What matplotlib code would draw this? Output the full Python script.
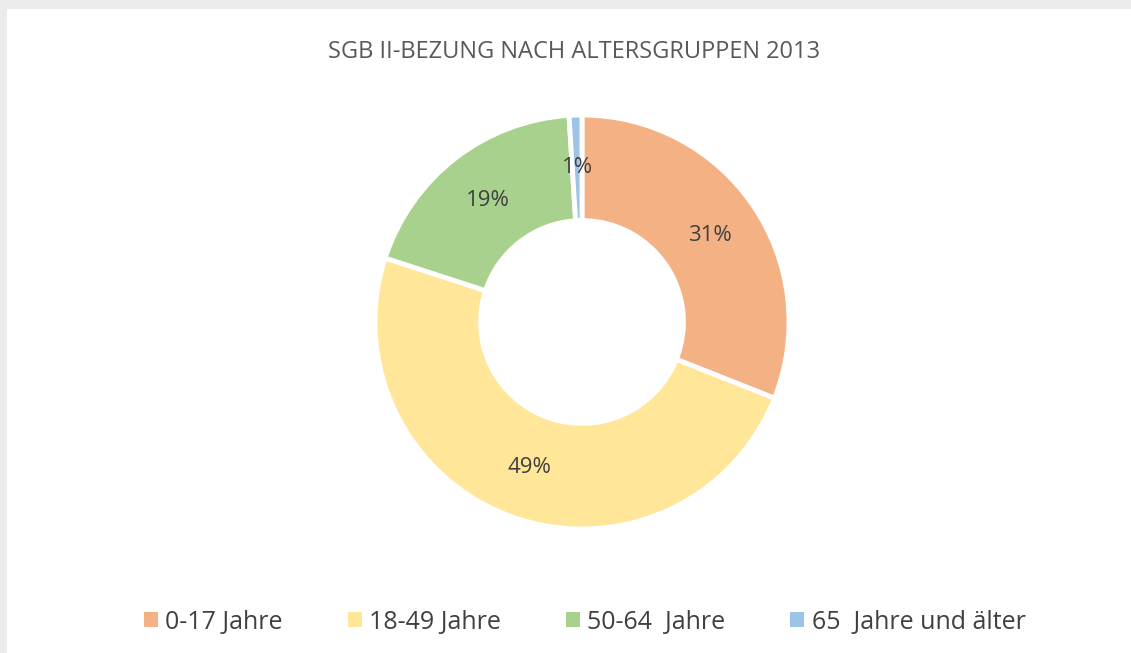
import numpy as np
import matplotlib.pyplot as plt
from matplotlib.patches import Rectangle

# data
categories = ['0-17 Jahre', '18-49 Jahre', '50-64  Jahre', '65  Jahre und älter']
shares = [31, 49, 19, 1]
colors = ['#F4B183', '#FFE699', '#A9D18E', '#9DC3E6']
title = 'SGB II-BEZUNG NACH ALTERSGRUPPEN 2013'

plt.rcParams['font.family'] = ['Open Sans', 'DejaVu Sans']

fig = plt.figure(figsize=(11.31, 6.53), dpi=100)
fig.patch.set_facecolor('#EBEBEB')
# white panel behind everything
fig.patches.append(Rectangle((7 / 1131, 0), 1, 1 - 9 / 653, transform=fig.transFigure,
                             facecolor='white', edgecolor='none', zorder=-10))

fig.text(0.508, 1 - 52 / 653, title, ha='center', va='center', fontsize=17, color='#595959')

# donut
cx, cy, r = 582 / 1131, 1 - 322 / 653, 207
ax = fig.add_axes([cx - r / 1131, cy - r / 653, 2 * r / 1131, 2 * r / 653])
wedges, _ = ax.pie(shares, colors=colors, startangle=90, counterclock=False, radius=1,
                   wedgeprops=dict(width=0.51, edgecolor='white', linewidth=3.5))
ax.set_xlim(-1, 1)
ax.set_ylim(-1, 1)
ax.set_aspect('equal')
ax.axis('off')

# percentage labels in the middle of the ring
for w, v in zip(wedges, shares):
    mid = np.deg2rad((w.theta1 + w.theta2) / 2)
    rr = 0.745
    ax.text(rr * np.cos(mid), rr * np.sin(mid), f'{v}%', ha='center', va='center',
            fontsize=16, color='#404040')

handles = [Rectangle((0, 0), 1, 1, facecolor=c) for c in colors]
fig.legend(handles, categories, loc='center', bbox_to_anchor=(0.517, 1 - 622 / 653), ncol=4,
           frameon=False, fontsize=18, handlelength=0.55, handleheight=0.55, handletextpad=0.3,
           columnspacing=2.6, labelcolor='#404040')

fig.savefig('out.png', dpi=100, facecolor=fig.get_facecolor())
